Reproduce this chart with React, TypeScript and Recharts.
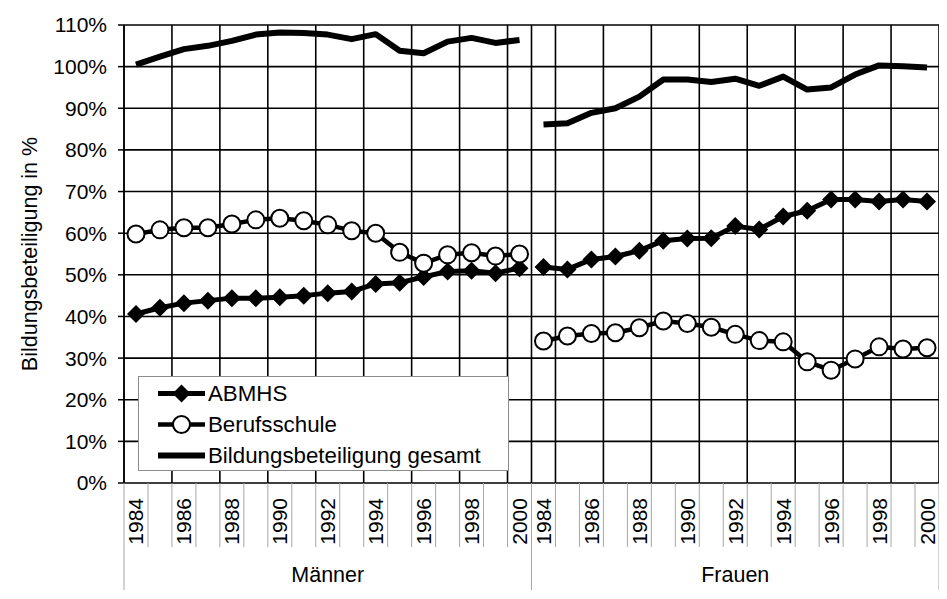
import React from 'react';
import { LineChart, Line, XAxis, YAxis, CartesianGrid, Legend, Label } from 'recharts';

const groups = ['Männer', 'Frauen'];
const years = [1984, 1985, 1986, 1987, 1988, 1989, 1990, 1991, 1992, 1993, 1994, 1995, 1996, 1997, 1998, 1999, 2000];
const yTicks = [0, 10, 20, 30, 40, 50, 60, 70, 80, 90, 100, 110];

const abmhsMaenner = [40.6, 42.1, 43.2, 43.8, 44.4, 44.4, 44.6, 45.0, 45.6, 46.0, 47.8, 48.1, 49.5, 50.8, 51.0, 50.4, 51.6];
const abmhsFrauen = [51.9, 51.3, 53.7, 54.4, 55.8, 58.2, 58.7, 58.8, 61.7, 60.9, 64.0, 65.4, 68.1, 68.1, 67.6, 68.1, 67.6];
const berufMaenner = [59.8, 60.8, 61.3, 61.3, 62.2, 63.2, 63.6, 63.0, 62.0, 60.6, 60.0, 55.4, 52.8, 54.8, 55.3, 54.5, 55.0];
const berufFrauen = [34.1, 35.3, 35.9, 36.1, 37.3, 38.9, 38.3, 37.4, 35.7, 34.2, 33.9, 29.1, 27.1, 29.8, 32.7, 32.2, 32.5];
const gesamtMaenner = [100.5, 102.4, 104.2, 105.0, 106.2, 107.7, 108.2, 108.1, 107.7, 106.6, 107.8, 103.8, 103.2, 106.0, 106.9, 105.7, 106.4];
const gesamtFrauen = [86.1, 86.4, 88.9, 90.0, 92.8, 96.9, 96.9, 96.3, 97.1, 95.4, 97.6, 94.5, 95.0, 98.1, 100.3, 100.1, 99.8];

const FONT = '"Liberation Sans", Arial, sans-serif';
const SEP = '#a6a6a6';

// one flat category per (group, year), group by group
const categories = groups.flatMap((g, gi) => years.map((year) => ({ group: g, gi, year })));
const nCat = categories.length;
const groupEdges = groups.map((_, gi) => gi * years.length).concat(nCat);
const groupCenters = groups.map((_, gi) => gi * years.length + years.length / 2);

const seriesValues: Record<string, number[][]> = {
  abmhs: [abmhsMaenner, abmhsFrauen],
  beruf: [berufMaenner, berufFrauen],
  gesamt: [gesamtMaenner, gesamtFrauen],
};

const data = categories.map((c, i) => {
  const j = i - c.gi * years.length;
  const row: any = { x: i + 0.5, year: c.year };
  Object.keys(seriesValues).forEach((k) => {
    groups.forEach((_, gi) => {
      row[`${k}${gi}`] = gi === c.gi ? seriesValues[k][gi][j] : null;
    });
  });
  return row;
});

// axis tick positions (category boundaries and centres)
const catTicks: number[] = [];
for (let i = 0; i <= nCat; i++) {
  catTicks.push(i);
  if (i < nCat) catTicks.push(i + 0.5);
}
const gridTicks = catTicks.filter((t) => Number.isInteger(t) && (t % 2 === 0 || groupEdges.includes(t)));
const groupTicks = [...groupEdges, ...groupCenters].sort((a, b) => a - b);

const DiamondDot = (props: any) => {
  const { cx, cy, index } = props;
  if (cx == null || cy == null) return <g key={`d${index}`} />;
  return <path key={`d${index}`} d={`M${cx},${cy - 9}L${cx + 9},${cy}L${cx},${cy + 9}L${cx - 9},${cy}Z`} fill="#000" />;
};

const CircleDot = (props: any) => {
  const { cx, cy, index } = props;
  if (cx == null || cy == null) return <g key={`c${index}`} />;
  return <circle key={`c${index}`} cx={cx} cy={cy} r={8.5} fill="#fff" stroke="#000" strokeWidth={2} />;
};

const seriesDefs = [
  { key: 'abmhs', name: 'ABMHS', width: 5, marker: 'diamond', dot: DiamondDot },
  { key: 'beruf', name: 'Berufsschule', width: 4.5, marker: 'circle', dot: CircleDot },
  { key: 'gesamt', name: 'Bildungsbeteiligung gesamt', width: 6, marker: 'none', dot: false as any },
];

const CatTick = (props: any) => {
  const { x, y, payload } = props;
  const v = payload.value;
  if (Number.isInteger(v)) {
    return <line x1={x} x2={x} y1={y} y2={y + 64} stroke={SEP} strokeWidth={1} />;
  }
  const cat = categories[Math.floor(v)];
  if (!cat || cat.year % 2 !== 0) return <g />;
  const tx = x + 7.5;
  const ty = y + 15;
  return (
    <text x={tx} y={ty} transform={`rotate(-90, ${tx}, ${ty})`} textAnchor="end" fontSize={21} fontFamily={FONT} fill="#000">
      {cat.year}
    </text>
  );
};

const GroupTick = (props: any) => {
  const { x, y, payload } = props;
  const v = payload.value;
  if (Number.isInteger(v)) {
    return <line x1={x} x2={x} y1={y} y2={y + 43} stroke={SEP} strokeWidth={1} />;
  }
  const gi = groupCenters.indexOf(v);
  return (
    <text x={x} y={y + 35} textAnchor="middle" fontSize={21.5} fontFamily={FONT} fill="#000">
      {groups[gi]}
    </text>
  );
};

const YLabel = (props: any) => {
  const { viewBox } = props;
  const tx = viewBox.x + 29.5;
  const ty = viewBox.y + viewBox.height / 2;
  return (
    <text x={tx} y={ty} transform={`rotate(-90, ${tx}, ${ty})`} textAnchor="middle" fontSize={21.5} fontFamily={FONT} fill="#000">
      Bildungsbeteiligung in %
    </text>
  );
};

const LegendIcon = ({ marker, width }: { marker: string; width: number }) => (
  <svg width={69} height={31} style={{ display: 'block', flex: 'none' }}>
    <line x1={19} x2={66} y1={15.5} y2={15.5} stroke="#000" strokeWidth={width} />
    {marker === 'diamond' && <path d="M42.5,6.5L51.5,15.5L42.5,24.5L33.5,15.5Z" fill="#000" />}
    {marker === 'circle' && <circle cx={42.5} cy={15.5} r={8.5} fill="#fff" stroke="#000" strokeWidth={2} />}
  </svg>
);

const LegendBox = () => (
  <div style={{ width: 369, height: 92, background: '#fff', border: '1px solid #8c8c8c', fontFamily: FONT, fontSize: 22.3, color: '#000', paddingTop: 1, boxSizing: 'content-box' }}>
    {seriesDefs.map((s) => (
      <div key={s.key} style={{ display: 'flex', alignItems: 'center', height: 31, whiteSpace: 'nowrap' }}>
        <LegendIcon marker={s.marker} width={s.width} />
        <span>{s.name}</span>
      </div>
    ))}
  </div>
);

export default function App() {
  return (
    <div style={{ position: 'relative', width: 939, height: 594, marginTop: -3, marginLeft: -1, background: '#fff' }}>
      <div style={{ position: 'absolute', left: 0, top: 0, width: 939, height: 594, borderTop: '1px solid #000', borderLeft: '1px solid #000', pointerEvents: 'none' }} />
      <LineChart width={939} height={594} data={data} margin={{ top: 20, right: 7, bottom: 0, left: 0 }}>
        <XAxis xAxisId="grid" type="number" dataKey="x" domain={[0, nCat]} ticks={gridTicks} interval={0} allowDataOverflow height={0} hide />
        <XAxis
          xAxisId="cats"
          type="number"
          dataKey="x"
          domain={[0, nCat]}
          ticks={catTicks}
          interval={0}
          allowDataOverflow
          height={64}
          axisLine={false}
          tickLine={false}
          tickSize={0}
          tickMargin={0}
          tick={<CatTick />}
        />
        <XAxis
          xAxisId="groups"
          type="number"
          dataKey="x"
          domain={[0, nCat]}
          ticks={groupTicks}
          interval={0}
          allowDataOverflow
          height={52}
          axisLine={false}
          tickLine={false}
          tickSize={0}
          tickMargin={0}
          tick={<GroupTick />}
        />
        <YAxis
          type="number"
          domain={[0, 110]}
          ticks={yTicks}
          interval={0}
          width={117}
          tickFormatter={(v) => `${v}%`}
          axisLine={{ stroke: '#000', strokeWidth: 1.5 }}
          tickLine={{ stroke: '#000', strokeWidth: 1.5 }}
          tickSize={6}
          tickMargin={11}
          tick={{ fill: '#000', fontSize: 21, fontFamily: FONT }}
        >
          <Label content={<YLabel />} />
        </YAxis>
        <CartesianGrid xAxisId="grid" stroke="#000" strokeWidth={1.6} />
        <Legend
          layout="horizontal"
          verticalAlign="middle"
          align="center"
          width={371}
          wrapperStyle={{ left: 131, top: 371, width: 371 }}
          content={<LegendBox />}
        />
        {seriesDefs.map((s) =>
          groups.map((g, gi) => (
            <Line
              key={`${s.key}${gi}`}
              xAxisId="cats"
              type="linear"
              dataKey={`${s.key}${gi}`}
              name={s.name}
              legendType={gi === 0 ? 'line' : 'none'}
              stroke="#000"
              strokeWidth={s.width}
              strokeLinejoin="round"
              dot={s.dot}
              activeDot={false}
              connectNulls={false}
              isAnimationActive={false}
            />
          ))
        )}
      </LineChart>
    </div>
  );
}
